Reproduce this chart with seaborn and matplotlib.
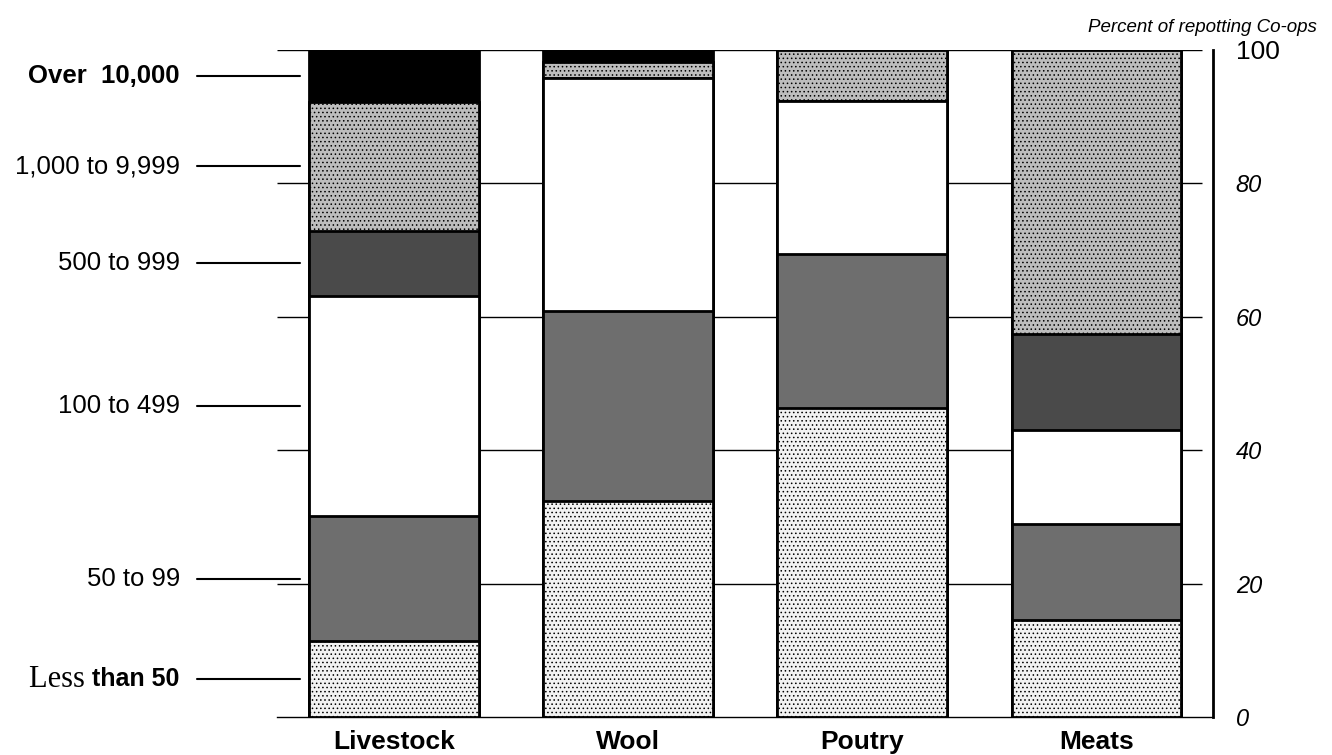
import numpy as np
import pandas as pd
import matplotlib
matplotlib.use('Agg')
import matplotlib.pyplot as plt
import matplotlib.transforms as mtransforms
import seaborn as sns

# products and size classes (volume of business)
categories = ['Livestock', 'Wool', 'Poutry', 'Meats']
size_classes = ['Less than 50', '50 to 99', '100 to 499', '500 to 999',
                '1,000 to 9,999', 'Over 10,000']

# percent of reporting co-ops in each size class
less_50 = [11.4, 32.4, 46.3, 14.5]
from_50_99 = [18.7, 28.5, 23.1, 14.4]
from_100_499 = [33.0, 34.9, 23.0, 14.1]
from_500_999 = [9.8, 0.0, 0.0, 14.4]
from_1000_9999 = [19.3, 2.4, 7.6, 42.6]
over_10000 = [7.8, 1.8, 0.0, 0.0]

y_ticks = [0, 20, 40, 60, 80, 100]

fills = ['#f2f2f2', '#6e6e6e', 'white', '#4a4a4a', '#bdbdbd', 'black']
hatches = ['....', None, None, None, '....', None]

sns.set_style('white')
plt.rcParams['font.family'] = ['Liberation Sans', 'DejaVu Sans']
plt.rcParams['hatch.linewidth'] = 0.6
for key in ['text.color', 'axes.labelcolor', 'xtick.color', 'ytick.color',
            'axes.edgecolor']:
    plt.rcParams[key] = 'black'

df = pd.DataFrame({
    'product': categories,
    size_classes[0]: less_50,
    size_classes[1]: from_50_99,
    size_classes[2]: from_100_499,
    size_classes[3]: from_500_999,
    size_classes[4]: from_1000_9999,
    size_classes[5]: over_10000,
})
cum = df[size_classes].cumsum(axis=1)

fig = plt.figure(figsize=(13.32, 7.55), dpi=100)
ax = fig.add_axes([0.208, 0.0503, 0.703, 0.8835])

# grid lines behind the bars
ax.hlines(y_ticks[1:], -0.5, 3.45, color='black', linewidth=1, zorder=0)

# stacked bars: draw cumulative totals from the top class down
for i in range(len(size_classes) - 1, -1, -1):
    name = size_classes[i]
    sns.barplot(x=df['product'], y=cum[name], color=fills[i], saturation=1,
                width=0.725, edgecolor='black', linewidth=2,
                hatch=hatches[i], ax=ax, zorder=2 + len(size_classes) - i)

ax.set_xlim(-0.5, 3.5)
ax.set_ylim(0, 100)
ax.set_xlabel('')
ax.set_ylabel('')

for side in ['top', 'left']:
    ax.spines[side].set_visible(False)
ax.spines['right'].set_linewidth(2)
ax.spines['bottom'].set_linewidth(1)

ax.yaxis.tick_right()
ax.set_yticks(y_ticks)
ax.set_yticklabels([str(v) for v in y_ticks], fontsize=17, style='italic')
ax.tick_params(axis='y', length=0, pad=16)
lab100 = ax.get_yticklabels()[-1]
lab100.set_style('normal')
lab100.set_fontsize(19)

ax.tick_params(axis='x', length=0, pad=9)
ax.set_xticks(range(len(categories)))
ax.set_xticklabels(categories, fontsize=19, fontweight='bold')

fig.text(0.989, 0.963, 'Percent of repotting Co-ops', ha='right', va='center',
         fontsize=13.5, style='italic')

# size class key, pointing at the Livestock segments
trans = mtransforms.blended_transform_factory(fig.transFigure, ax.transData)
live = df[size_classes].iloc[0]
mids = live.cumsum() - live / 2
for i, name in enumerate(size_classes):
    y = mids[name]
    ax.plot([0.148, 0.225], [y, y], color='black', linewidth=1.5,
            transform=trans, clip_on=False)
    if name == 'Less than 50':
        t = ax.text(0.135, y, 'than 50', transform=trans, ha='right',
                    va='center', fontsize=18, fontweight='bold')
        ax.annotate('Less ', xy=(0, 0.5), xycoords=t, ha='right', va='center',
                    fontsize=22, family='Liberation Serif')
    else:
        weight = 'bold' if name == 'Over 10,000' else 'normal'
        label = 'Over  10,000' if name == 'Over 10,000' else name
        ax.text(0.135, y, label, transform=trans, ha='right', va='center',
                fontsize=18.5, fontweight=weight)

fig.savefig('out.png', dpi=100)
